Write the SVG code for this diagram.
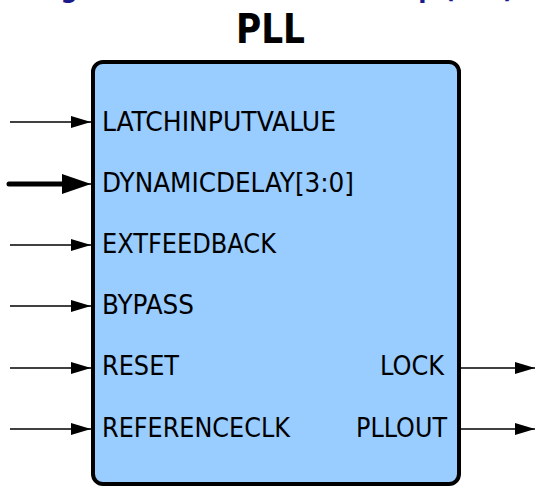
<svg xmlns="http://www.w3.org/2000/svg" width="535" height="487" viewBox="0 0 535 487">
<style>
.lbl{font-family:"DejaVu Sans Condensed","DejaVu Sans",sans-serif;font-size:26px;fill:#000}
.ttl{font-family:"DejaVu Sans Condensed","DejaVu Sans",sans-serif;font-size:40px;font-weight:bold;fill:#000}
.cap{font-family:"DejaVu Sans","Liberation Sans",sans-serif;font-size:24px;font-weight:bold;fill:#1a1a8c}
.w{stroke:#000;stroke-width:1.5;fill:none}
.bus{stroke:#000;stroke-width:5;fill:none;stroke-linecap:round}
</style>
<defs>
<marker id="ah" markerUnits="userSpaceOnUse" markerWidth="20" markerHeight="12" refX="20" refY="6" orient="auto"><path d="M0,0L20,6L0,12Z" fill="#000"/></marker>
<marker id="ahb" markerUnits="userSpaceOnUse" markerWidth="29" markerHeight="20" refX="29" refY="10" orient="auto"><path d="M0,0L29,10L0,20Z" fill="#000"/></marker>
</defs>
<text class="cap" y="-2"><tspan x="36">Figure 4: PLL Block Macro</tspan><tspan x="514" text-anchor="end">Map (PLL)</tspan></text>
<g id="pll">
<rect x="93" y="62" width="366" height="422" rx="10" fill="#99ccff" stroke="#000" stroke-width="4"/>
<text class="ttl" x="236" y="43" textLength="69" lengthAdjust="spacingAndGlyphs">PLL</text>
<text class="lbl" x="102" y="131" textLength="234" lengthAdjust="spacingAndGlyphs">LATCHINPUTVALUE</text>
<text class="lbl" x="102" y="192" textLength="252" lengthAdjust="spacingAndGlyphs">DYNAMICDELAY[3:0]</text>
<text class="lbl" x="102" y="253" textLength="174" lengthAdjust="spacingAndGlyphs">EXTFEEDBACK</text>
<text class="lbl" x="102" y="314" textLength="92" lengthAdjust="spacingAndGlyphs">BYPASS</text>
<text class="lbl" x="102" y="375" textLength="77" lengthAdjust="spacingAndGlyphs">RESET</text>
<text class="lbl" x="102" y="437" textLength="188" lengthAdjust="spacingAndGlyphs">REFERENCECLK</text>
<text class="lbl" x="380" y="375" textLength="64" lengthAdjust="spacingAndGlyphs">LOCK</text>
<text class="lbl" x="356" y="437" textLength="91" lengthAdjust="spacingAndGlyphs">PLLOUT</text>
</g>
<g id="connectors">
<line class="w" x1="10" y1="122" x2="91" y2="122" marker-end="url(#ah)"/>
<line class="bus" x1="9" y1="184" x2="70" y2="184"/>
<line class="w" x1="60" y1="184" x2="91" y2="184" marker-end="url(#ahb)"/>
<line class="w" x1="10" y1="245" x2="91" y2="245" marker-end="url(#ah)"/>
<line class="w" x1="10" y1="306" x2="91" y2="306" marker-end="url(#ah)"/>
<line class="w" x1="10" y1="368" x2="91" y2="368" marker-end="url(#ah)"/>
<line class="w" x1="10" y1="429" x2="91" y2="429" marker-end="url(#ah)"/>
<line class="w" x1="461" y1="368" x2="535" y2="368" marker-end="url(#ah)"/>
<line class="w" x1="461" y1="429" x2="535" y2="429" marker-end="url(#ah)"/>
</g>
</svg>
